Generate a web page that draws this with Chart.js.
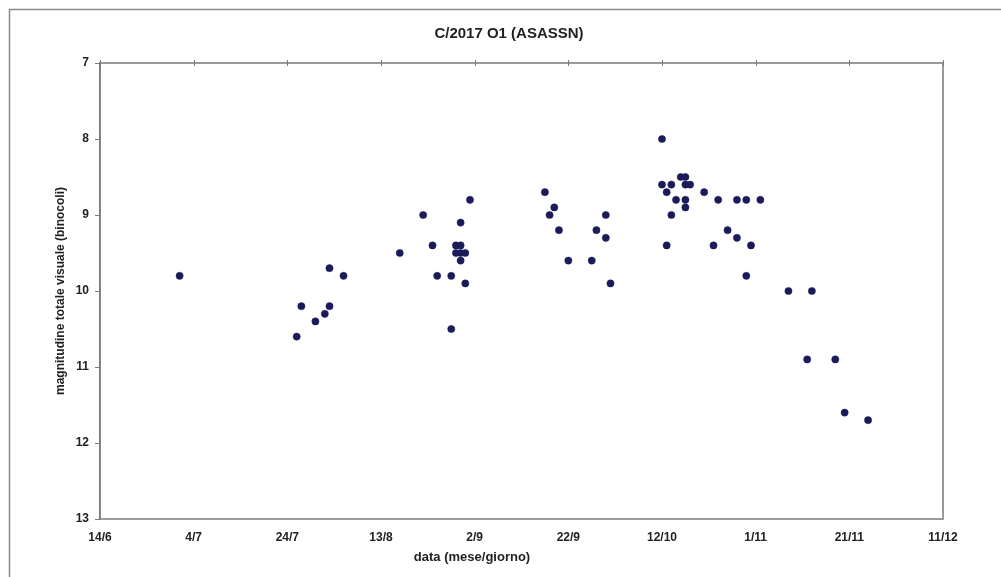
<!DOCTYPE html>
<html>
<head>
<meta charset="utf-8">
<script src="https://cdn.jsdelivr.net/npm/chart.js@4/dist/chart.umd.min.js"></script>
<style>
  html, body { margin: 0; padding: 0; background: #ffffff; }
  canvas { display: block; }
</style>
</head>
<body>
<canvas id="c" width="1001" height="577"></canvas>
<script>
// Visual binocular estimates of comet C/2017 O1 (ASASSN), 2017
const obsDates = [
  '1/7', '26/7', '27/7', '30/7', '1/8', '2/8', '2/8', '5/8',
  '17/8', '22/8', '24/8', '25/8', '28/8', '28/8', '29/8', '30/8',
  '29/8', '30/8', '31/8', '30/8', '30/8', '31/8', '1/9',
  '17/9', '19/9', '18/9', '20/9', '22/9', '27/9', '28/9', '30/9', '30/9', '1/10',
  '12/10', '12/10', '13/10', '14/10', '14/10', '13/10', '15/10', '16/10', '17/10',
  '17/10', '18/10', '17/10', '17/10', '21/10', '23/10', '24/10', '26/10', '28/10',
  '28/10', '30/10', '30/10', '31/10', '2/11',
  '8/11', '12/11', '13/11', '18/11', '20/11', '25/11'
];
const magnitudes = [
  9.8, 10.6, 10.2, 10.4, 10.3, 10.2, 9.7, 9.8,
  9.5, 9.0, 9.4, 9.8, 9.8, 10.5, 9.4, 9.4,
  9.5, 9.5, 9.5, 9.6, 9.1, 9.9, 8.8,
  8.7, 8.9, 9.0, 9.2, 9.6, 9.6, 9.2, 9.0, 9.3, 9.9,
  8.0, 8.6, 8.7, 8.6, 9.0, 9.4, 8.8, 8.5, 8.5,
  8.6, 8.6, 8.8, 8.9, 8.7, 9.4, 8.8, 9.2, 8.8,
  9.3, 8.8, 9.8, 9.4, 8.8,
  10.0, 10.9, 10.0, 10.9, 11.6, 11.7
];
const xTickLabels = ['14/6', '4/7', '24/7', '13/8', '2/9', '22/9', '12/10', '1/11', '21/11', '11/12'];
const yTicks = [7, 8, 9, 10, 11, 12, 13];

const YEAR = 2017;
const START = Date.UTC(YEAR, 5, 14);
const DAY = 86400000;
function dayOf(s) {
  const [d, m] = s.split('/').map(Number);
  return Math.round((Date.UTC(YEAR, m - 1, d) - START) / DAY);
}
const points = obsDates.map((s, i) => ({ x: dayOf(s), y: magnitudes[i] }));
const lastDay = dayOf(xTickLabels[xTickLabels.length - 1]);
const step = dayOf(xTickLabels[1]);

const AXIS_GREY = '#7a7a7a';
const TEXT = '#222222';
const FONT = '"Liberation Sans", Arial, sans-serif';

// page frame, plot frame, top tick marks and titles
const decor = {
  id: 'decor',
  beforeDraw(chart) {
    const ctx = chart.ctx;
    ctx.save();
    ctx.fillStyle = '#ffffff';
    ctx.fillRect(0, 0, chart.width, chart.height);
    ctx.strokeStyle = '#8a8a8a';
    ctx.lineWidth = 1.5;
    ctx.strokeRect(9.5, 9.5, chart.width + 20, chart.height + 20);
    ctx.restore();
  },
  afterDatasetsDraw(chart) {
    const ctx = chart.ctx;
    const a = chart.chartArea;
    const xs = chart.scales.x;
    ctx.save();
    ctx.strokeStyle = AXIS_GREY;
    ctx.lineWidth = 1.5;
    ctx.strokeRect(a.left, a.top, a.right - a.left, a.bottom - a.top);
    ctx.lineWidth = 1;
    xs.ticks.forEach(t => {
      const px = Math.round(xs.getPixelForValue(t.value)) + 0.5;
      ctx.beginPath();
      ctx.moveTo(px, a.top - 3);
      ctx.lineTo(px, a.top + 3);
      ctx.stroke();
    });
    ctx.fillStyle = TEXT;
    ctx.textAlign = 'center';
    ctx.textBaseline = 'middle';
    ctx.font = 'bold 15px ' + FONT;
    ctx.fillText('C/2017 O1 (ASASSN)', 509, 34);
    ctx.font = 'bold 13px ' + FONT;
    ctx.fillText('data (mese/giorno)', 472, 557);
    ctx.font = 'bold 12px ' + FONT;
    ctx.translate(61, (a.top + a.bottom) / 2);
    ctx.rotate(-Math.PI / 2);
    ctx.fillText('magnitudine totale visuale (binocoli)', 0, 0);
    ctx.restore();
  }
};

new Chart(document.getElementById('c'), {
  type: 'scatter',
  data: {
    datasets: [{
      data: points,
      backgroundColor: '#1b1b5a',
      borderColor: '#1b1b5a',
      borderWidth: 0.5,
      pointRadius: 3.6,
      pointHoverRadius: 3.6
    }]
  },
  options: {
    responsive: false,
    animation: false,
    devicePixelRatio: 1,
    layout: { padding: { left: 0, top: 63, right: 58, bottom: 0 } },
    plugins: {
      legend: { display: false },
      tooltip: { enabled: false },
      title: { display: false }
    },
    scales: {
      x: {
        type: 'linear',
        min: 0,
        max: lastDay,
        afterFit(s) { s.height = 58; },
        afterBuildTicks(s) {
          s.ticks = xTickLabels.map((_, i) => ({ value: i * step }));
        },
        ticks: {
          callback: (v, i) => xTickLabels[i],
          color: TEXT,
          font: { family: FONT, size: 12, weight: 'bold' },
          padding: 11,
          maxRotation: 0,
          autoSkip: false
        },
        grid: { display: false, drawTicks: false },
        border: { display: false }
      },
      y: {
        reverse: true,
        min: yTicks[0],
        max: yTicks[yTicks.length - 1],
        afterFit(s) { s.width = 100; },
        afterBuildTicks(s) {
          s.ticks = yTicks.map(v => ({ value: v }));
        },
        ticks: {
          color: TEXT,
          font: { family: FONT, size: 12, weight: 'bold' },
          padding: 6
        },
        grid: {
          drawOnChartArea: false,
          drawTicks: true,
          tickLength: 5,
          color: AXIS_GREY
        },
        border: { display: true, color: AXIS_GREY, width: 1.5 }
      }
    }
  },
  plugins: [decor]
});
</script>
</body>
</html>
